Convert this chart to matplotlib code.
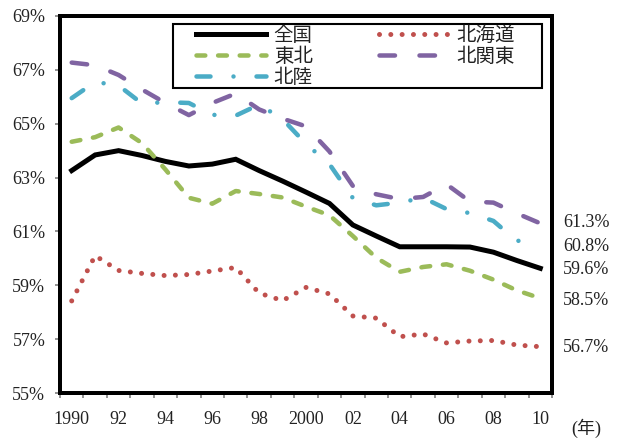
import matplotlib
matplotlib.use('Agg')
import matplotlib.pyplot as plt
from matplotlib.patches import Rectangle

plt.rcParams['font.family'] = ['Liberation Serif', 'Noto Sans CJK JP']
plt.rcParams['lines.scale_dashes'] = False

# data (labour force participation rate, %)
years = list(range(1990, 2011))
year_labels = ['1990', '92', '94', '96', '98', '2000', '02', '04', '06', '08', '10']

zenkoku = [63.26, 63.84, 64.00, 63.82, 63.60, 63.43, 63.50, 63.68, 63.26, 62.87, 62.46,
           62.04, 61.24, 60.83, 60.43, 60.43, 60.43, 60.42, 60.23, 59.92, 59.63]
hokkaido = [58.42, 60.10, 59.55, 59.44, 59.36, 59.40, 59.53, 59.66, 58.71, 58.43, 58.92,
            58.68, 57.86, 57.78, 57.09, 57.19, 56.86, 56.93, 56.95, 56.78, 56.72]
tohoku = [64.33, 64.50, 64.86, 64.28, 63.30, 62.25, 62.03, 62.50, 62.39, 62.26, 61.92,
          61.60, 60.83, 60.02, 59.50, 59.68, 59.78, 59.54, 59.21, 58.81, 58.52]
kitakanto = [67.27, 67.17, 66.81, 66.27, 65.77, 65.32, 65.77, 66.12, 65.53, 65.19, 64.90,
             63.97, 62.69, 62.38, 62.20, 62.28, 62.75, 62.11, 62.07, 61.67, 61.30]
hokuriku = [65.95, 66.55, 66.42, 65.75, 65.80, 65.77, 65.33, 65.30, 65.71, 65.17, 64.25,
            63.50, 62.24, 61.97, 62.07, 62.25, 61.83, 61.68, 61.39, 60.64, 60.80]

x = list(range(len(years)))
PX = 0.72  # points per pixel at dpi 100
TXT = '#222222'

fig = plt.figure(figsize=(6.27, 4.45), dpi=100)
ax = fig.add_axes([60 / 627, 52 / 445, 492 / 627, 377 / 445])

l_zen, = ax.plot(x, zenkoku, color='black', lw=5 * PX, solid_joinstyle='miter', label='全国')
l_hok, = ax.plot(x, hokkaido, color='#C0504D', lw=5 * PX, label='北海道')
l_hok.set_dashes((0.01, 11.3 * PX))
l_hok.set_dash_capstyle('round')
l_toh, = ax.plot(x, tohoku, color='#9BBB59', lw=4.5 * PX, label='東北')
l_toh.set_dashes((8.8 * PX, 12.8 * PX))
l_toh.set_dash_capstyle('round')
l_kan, = ax.plot(x, kitakanto, color='#8064A2', lw=4.5 * PX, label='北関東')
l_kan.set_dashes((15.5 * PX, 24.5 * PX))
l_kan.set_dash_capstyle('round')
l_rik, = ax.plot(x, hokuriku, color='#4BACC6', lw=4.5 * PX, label='北陸')
l_rik.set_dashes((14 * PX, 23 * PX, 0.01, 23 * PX))
l_rik.set_dash_capstyle('round')

ax.set_xlim(-0.5, len(years) - 0.5)
ax.set_ylim(55, 69)
ax.set_yticks(range(55, 70, 2))
ax.set_yticklabels(['{}%'.format(v) for v in range(55, 70, 2)])
ax.set_xticks([i - 0.5 for i in range(len(years) + 1)])
ax.set_xticklabels([])
ax.set_xticks(range(0, len(years), 2), minor=True)
ax.set_xticklabels(year_labels, minor=True)
ax.tick_params(axis='both', which='major', direction='out', length=5 * PX, width=1.2,
               color='#808080', labelsize=13, labelcolor=TXT, pad=7)
ax.tick_params(axis='x', which='minor', length=0, labelsize=13, labelcolor=TXT, pad=13)

for s in ax.spines.values():
    s.set_linewidth(4 * PX)
    s.set_color('black')

# value labels at the right end
end_vals = [kitakanto[-1], hokuriku[-1], zenkoku[-1], tohoku[-1], hokkaido[-1]]
end_pos = [61.35, 60.45, 59.57, 58.45, 56.68]
for v, p in zip(end_vals, end_pos):
    ax.text(1.022, (p - 55) / 14, '{:.1f}%'.format(v), transform=ax.transAxes,
            ha='left', va='center', fontsize=13, color=TXT)
ax.text(1.04, -0.095, '(年)', transform=ax.transAxes, ha='left', va='center',
        fontsize=13, color=TXT)

# legend: entries without frame, frame drawn as a box
leg = ax.legend(handles=[l_zen, l_toh, l_rik, l_hok, l_kan], ncol=2,
                loc='upper left', bbox_to_anchor=((195 - 60) / 492, (393 - 24) / 377),
                frameon=False, borderaxespad=0, borderpad=0.05,
                handlelength=3.6, handletextpad=0.4, columnspacing=3.4,
                labelspacing=0.0,
                prop={'family': ['Noto Sans CJK JP'], 'size': 14})
for t in leg.get_texts():
    t.set_color(TXT)
ax.add_patch(Rectangle(((173 - 60) / 492, (393 - 88) / 377), (542 - 173) / 492, 64 / 377,
                       transform=ax.transAxes, fill=True, facecolor='white',
                       edgecolor='black', lw=1.5, zorder=4.9))
leg.set_zorder(5)

fig.savefig('out.png', dpi=100)
